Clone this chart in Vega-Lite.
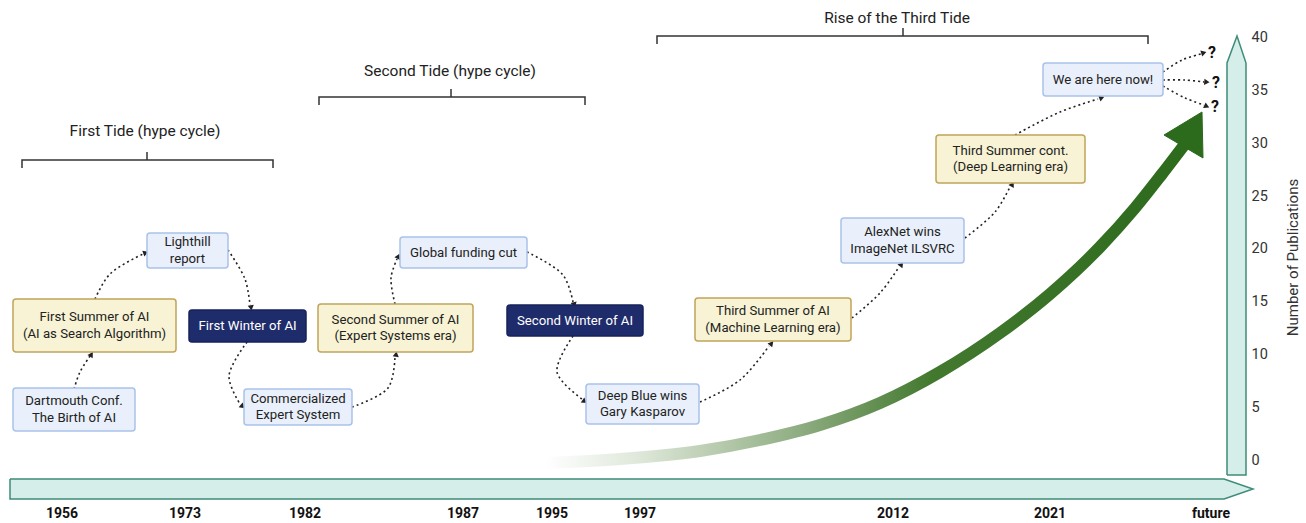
{
  "$schema": "https://vega.github.io/schema/vega-lite/v6.json",
  "width": 1306,
  "height": 523,
  "autosize": {"type": "none"},
  "padding": 0,
  "background": "white",
  "config": {"view": {"stroke": null}, "font": "Roboto"},
  "datasets": {
    "shapes": [
      {"g": "timeline", "i": 0, "x": 10, "y": 479},
      {"g": "timeline", "i": 1, "x": 1224, "y": 479},
      {"g": "timeline", "i": 2, "x": 1253, "y": 489},
      {"g": "timeline", "i": 3, "x": 1224, "y": 499},
      {"g": "timeline", "i": 4, "x": 10, "y": 499},
      {"g": "timeline", "i": 5, "x": 10, "y": 479},
      {"g": "pubs", "i": 0, "x": 1227, "y": 475},
      {"g": "pubs", "i": 1, "x": 1246, "y": 475},
      {"g": "pubs", "i": 2, "x": 1246, "y": 63},
      {"g": "pubs", "i": 3, "x": 1237, "y": 36},
      {"g": "pubs", "i": 4, "x": 1227, "y": 63},
      {"g": "pubs", "i": 5, "x": 1227, "y": 475}
    ],
    "head": [
      {"i": 0, "x": 1202, "y": 112},
      {"i": 1, "x": 1203, "y": 158},
      {"i": 2, "x": 1164, "y": 135},
      {"i": 3, "x": 1202, "y": 112}
    ],
    "curve": [
      {"x": 545, "y": 463},
      {"x": 620, "y": 459},
      {"x": 700, "y": 451},
      {"x": 760, "y": 440},
      {"x": 820, "y": 425},
      {"x": 880, "y": 403},
      {"x": 940, "y": 372},
      {"x": 1000, "y": 333},
      {"x": 1050, "y": 294},
      {"x": 1100, "y": 247},
      {"x": 1135, "y": 208},
      {"x": 1162, "y": 174},
      {"x": 1188, "y": 140}
    ],
    "brackets": [
      {"id": "b1", "i": 0, "x": 22, "y": 168}, {"id": "b1", "i": 1, "x": 22, "y": 160}, {"id": "b1", "i": 2, "x": 273, "y": 160}, {"id": "b1", "i": 3, "x": 273, "y": 168},
      {"id": "b1t", "i": 0, "x": 147, "y": 152}, {"id": "b1t", "i": 1, "x": 147, "y": 160},
      {"id": "b2", "i": 0, "x": 319, "y": 105}, {"id": "b2", "i": 1, "x": 319, "y": 97}, {"id": "b2", "i": 2, "x": 585, "y": 97}, {"id": "b2", "i": 3, "x": 585, "y": 105},
      {"id": "b2t", "i": 0, "x": 451, "y": 89}, {"id": "b2t", "i": 1, "x": 451, "y": 97},
      {"id": "b3", "i": 0, "x": 657, "y": 44}, {"id": "b3", "i": 1, "x": 657, "y": 36}, {"id": "b3", "i": 2, "x": 1148, "y": 36}, {"id": "b3", "i": 3, "x": 1148, "y": 44},
      {"id": "b3t", "i": 0, "x": 903, "y": 28}, {"id": "b3t", "i": 1, "x": 903, "y": 36}
    ],
    "tides": [
      {"label": "First Tide (hype cycle)", "x": 145, "y": 131},
      {"label": "Second Tide (hype cycle)", "x": 450, "y": 71},
      {"label": "Rise of the Third Tide", "x": 897, "y": 18}
    ],
    "links": [
      {"id": "a1", "i": 0, "x": 74, "y": 389}, {"id": "a1", "i": 1, "x": 80, "y": 372}, {"id": "a1", "i": 2, "x": 90, "y": 356},
      {"id": "a2", "i": 0, "x": 95, "y": 299}, {"id": "a2", "i": 1, "x": 110, "y": 274}, {"id": "a2", "i": 2, "x": 143, "y": 254},
      {"id": "a3", "i": 0, "x": 228, "y": 250}, {"id": "a3", "i": 1, "x": 245, "y": 279}, {"id": "a3", "i": 2, "x": 250, "y": 305},
      {"id": "a4", "i": 0, "x": 247, "y": 342}, {"id": "a4", "i": 1, "x": 229, "y": 376}, {"id": "a4", "i": 2, "x": 240, "y": 404},
      {"id": "a5", "i": 0, "x": 352, "y": 407}, {"id": "a5", "i": 1, "x": 388, "y": 388}, {"id": "a5", "i": 2, "x": 395, "y": 357},
      {"id": "a6", "i": 0, "x": 395, "y": 304}, {"id": "a6", "i": 1, "x": 391, "y": 278}, {"id": "a6", "i": 2, "x": 397, "y": 259},
      {"id": "a7", "i": 0, "x": 527, "y": 252}, {"id": "a7", "i": 1, "x": 563, "y": 275}, {"id": "a7", "i": 2, "x": 573, "y": 302},
      {"id": "a8", "i": 0, "x": 573, "y": 336}, {"id": "a8", "i": 1, "x": 557, "y": 372}, {"id": "a8", "i": 2, "x": 582, "y": 399},
      {"id": "a9", "i": 0, "x": 700, "y": 402}, {"id": "a9", "i": 1, "x": 740, "y": 380}, {"id": "a9", "i": 2, "x": 769, "y": 346},
      {"id": "a10", "i": 0, "x": 852, "y": 318}, {"id": "a10", "i": 1, "x": 880, "y": 293}, {"id": "a10", "i": 2, "x": 899, "y": 267},
      {"id": "a11", "i": 0, "x": 965, "y": 238}, {"id": "a11", "i": 1, "x": 995, "y": 212}, {"id": "a11", "i": 2, "x": 1010, "y": 187},
      {"id": "a12", "i": 0, "x": 1015, "y": 135}, {"id": "a12", "i": 1, "x": 1060, "y": 112}, {"id": "a12", "i": 2, "x": 1098, "y": 99},
      {"id": "a13", "i": 0, "x": 1163, "y": 72}, {"id": "a13", "i": 1, "x": 1182, "y": 60}, {"id": "a13", "i": 2, "x": 1201, "y": 54},
      {"id": "a14", "i": 0, "x": 1163, "y": 80}, {"id": "a14", "i": 1, "x": 1185, "y": 80}, {"id": "a14", "i": 2, "x": 1204, "y": 82},
      {"id": "a15", "i": 0, "x": 1163, "y": 86}, {"id": "a15", "i": 1, "x": 1185, "y": 98}, {"id": "a15", "i": 2, "x": 1204, "y": 105}
    ],
    "heads": [
      {"x": 91, "y": 355, "dir": 32},
      {"x": 145, "y": 253, "dir": 70},
      {"x": 251, "y": 307, "dir": 172},
      {"x": 242, "y": 406, "dir": 130},
      {"x": 396, "y": 355, "dir": 8},
      {"x": 398, "y": 257, "dir": 25},
      {"x": 574, "y": 304, "dir": 168},
      {"x": 584, "y": 401, "dir": 125},
      {"x": 771, "y": 344, "dir": 40},
      {"x": 901, "y": 265, "dir": 37},
      {"x": 1012, "y": 185, "dir": 30},
      {"x": 1101, "y": 98, "dir": 68},
      {"x": 1203, "y": 53, "dir": 72},
      {"x": 1206, "y": 82, "dir": 95},
      {"x": 1206, "y": 106, "dir": 115}
    ],
    "boxes": [
      {"label": "Dartmouth Conf.\nThe Birth of AI", "kind": "event", "x1": 13, "x2": 135, "y1": 388, "y2": 431},
      {"label": "First Summer of AI\n(AI as Search Algorithm)", "kind": "summer", "x1": 13, "x2": 176, "y1": 299, "y2": 352},
      {"label": "Lighthill\nreport", "kind": "event", "x1": 147, "x2": 228, "y1": 233, "y2": 268},
      {"label": "First Winter of AI", "kind": "winter", "x1": 189, "x2": 306, "y1": 310, "y2": 342},
      {"label": "Commercialized\nExpert System", "kind": "event", "x1": 244, "x2": 352, "y1": 389, "y2": 425},
      {"label": "Second Summer of AI\n(Expert Systems era)", "kind": "summer", "x1": 318, "x2": 473, "y1": 304, "y2": 352},
      {"label": "Global funding cut", "kind": "event", "x1": 400, "x2": 527, "y1": 237, "y2": 268},
      {"label": "Second Winter of AI", "kind": "winter", "x1": 507, "x2": 643, "y1": 305, "y2": 336},
      {"label": "Deep Blue wins\nGary Kasparov", "kind": "event", "x1": 586, "x2": 699, "y1": 384, "y2": 424},
      {"label": "Third Summer of AI\n(Machine Learning era)", "kind": "summer", "x1": 695, "x2": 851, "y1": 298, "y2": 341},
      {"label": "AlexNet wins\nImageNet ILSVRC", "kind": "event", "x1": 841, "x2": 964, "y1": 218, "y2": 263},
      {"label": "Third Summer cont.\n(Deep Learning era)", "kind": "summer", "x1": 936, "x2": 1085, "y1": 135, "y2": 183},
      {"label": "We are here now!", "kind": "event", "x1": 1043, "x2": 1163, "y1": 63, "y2": 96}
    ],
    "questions": [
      {"label": "?", "x": 1212, "y": 53},
      {"label": "?", "x": 1216, "y": 83},
      {"label": "?", "x": 1215, "y": 107}
    ],
    "years": [
      {"label": "1956", "x": 62},
      {"label": "1973", "x": 185},
      {"label": "1982", "x": 305},
      {"label": "1987", "x": 463},
      {"label": "1995", "x": 552},
      {"label": "1997", "x": 640},
      {"label": "2012", "x": 893},
      {"label": "2021", "x": 1050},
      {"label": "future", "x": 1211}
    ]
  },
  "layer": [
    {
      "layer": [
        {
          "data": {"name": "shapes"},
          "mark": {"type": "line", "fill": "#d5eeea", "stroke": "#3f8c78", "strokeWidth": 1.5, "strokeJoin": "miter"},
          "encoding": {
            "x": {"field": "x", "type": "quantitative", "scale": {"domain": [0, 1306], "nice": false, "zero": false}, "axis": null},
            "y": {"field": "y", "type": "quantitative", "scale": {"domain": [0, 523], "reverse": true, "nice": false, "zero": false}, "axis": null},
            "detail": {"field": "g"},
            "order": {"field": "i", "type": "quantitative"}
          }
        },
        {
          "data": {"name": "curve"},
          "mark": {"type": "line", "interpolate": "monotone", "strokeWidth": 12, "strokeCap": "butt", "stroke": {"gradient": "linear", "x1": 0, "y1": 0, "x2": 1, "y2": 0, "stops": [
            {"offset": 0, "color": "#ffffff"},
            {"offset": 0.15, "color": "#dde7d8"},
            {"offset": 0.4, "color": "#8dac80"},
            {"offset": 0.6, "color": "#43792f"},
            {"offset": 1, "color": "#2c6a1c"}
          ]}},
          "encoding": {
            "x": {"field": "x", "type": "quantitative", "scale": {"domain": [0, 1306], "nice": false, "zero": false}, "axis": null},
            "y": {"field": "y", "type": "quantitative", "scale": {"domain": [0, 523], "reverse": true, "nice": false, "zero": false}, "axis": null},
            "order": {"field": "x", "type": "quantitative"}
          }
        },
        {
          "data": {"name": "head"},
          "mark": {"type": "line", "fill": "#2c6a1c", "stroke": "#2c6a1c", "strokeWidth": 1},
          "encoding": {
            "x": {"field": "x", "type": "quantitative", "scale": {"domain": [0, 1306], "nice": false, "zero": false}, "axis": null},
            "y": {"field": "y", "type": "quantitative", "scale": {"domain": [0, 523], "reverse": true, "nice": false, "zero": false}, "axis": null},
            "order": {"field": "i", "type": "quantitative"}
          }
        },
        {
          "data": {"name": "brackets"},
          "mark": {"type": "line", "stroke": "#333333", "strokeWidth": 1.5},
          "encoding": {
            "x": {"field": "x", "type": "quantitative", "scale": {"domain": [0, 1306], "nice": false, "zero": false}, "axis": null},
            "y": {"field": "y", "type": "quantitative", "scale": {"domain": [0, 523], "reverse": true, "nice": false, "zero": false}, "axis": null},
            "detail": {"field": "id"},
            "order": {"field": "i", "type": "quantitative"}
          }
        },
        {
          "data": {"name": "tides"},
          "mark": {"type": "text", "fontSize": 15.5, "color": "#222222", "align": "center", "baseline": "middle"},
          "encoding": {
            "x": {"field": "x", "type": "quantitative", "scale": {"domain": [0, 1306], "nice": false, "zero": false}, "axis": null},
            "y": {"field": "y", "type": "quantitative", "scale": {"domain": [0, 523], "reverse": true, "nice": false, "zero": false}, "axis": null},
            "text": {"field": "label"}
          }
        },
        {
          "data": {"name": "links"},
          "mark": {"type": "line", "interpolate": "catmull-rom", "stroke": "#222222", "strokeWidth": 1.6, "strokeDash": [2, 3]},
          "encoding": {
            "x": {"field": "x", "type": "quantitative", "scale": {"domain": [0, 1306], "nice": false, "zero": false}, "axis": null},
            "y": {"field": "y", "type": "quantitative", "scale": {"domain": [0, 523], "reverse": true, "nice": false, "zero": false}, "axis": null},
            "detail": {"field": "id"},
            "order": {"field": "i", "type": "quantitative"}
          }
        },
        {
          "data": {"name": "heads"},
          "mark": {"type": "point", "shape": "triangle", "filled": true, "color": "#222222", "opacity": 1, "size": 38},
          "encoding": {
            "x": {"field": "x", "type": "quantitative", "scale": {"domain": [0, 1306], "nice": false, "zero": false}, "axis": null},
            "y": {"field": "y", "type": "quantitative", "scale": {"domain": [0, 523], "reverse": true, "nice": false, "zero": false}, "axis": null},
            "angle": {"field": "dir", "type": "quantitative", "scale": null}
          }
        },
        {
          "data": {"name": "boxes"},
          "mark": {"type": "rect", "cornerRadius": 3, "strokeWidth": 1.5},
          "encoding": {
            "x": {"field": "x1", "type": "quantitative", "scale": {"domain": [0, 1306], "nice": false, "zero": false}, "axis": null},
            "x2": {"field": "x2"},
            "y": {"field": "y1", "type": "quantitative", "scale": {"domain": [0, 523], "reverse": true, "nice": false, "zero": false}, "axis": null},
            "y2": {"field": "y2"},
            "fill": {"field": "kind", "type": "nominal", "scale": {"domain": ["event", "summer", "winter"], "range": ["#e9f0fb", "#f7f3d4", "#1f2c6b"]}, "legend": null},
            "stroke": {"field": "kind", "type": "nominal", "scale": {"domain": ["event", "summer", "winter"], "range": ["#a9c2ea", "#c0a55a", "#17225a"]}, "legend": null}
          }
        },
        {
          "data": {"name": "boxes"},
          "transform": [
            {"calculate": "(datum.x1 + datum.x2) / 2", "as": "cx"},
            {"calculate": "(datum.y1 + datum.y2) / 2 - (indexof(datum.label, '\\n') >= 0 ? 8.25 : 0)", "as": "cy"}
          ],
          "mark": {"type": "text", "fontSize": 13.2, "lineBreak": "\n", "lineHeight": 16.5, "align": "center", "baseline": "middle"},
          "encoding": {
            "x": {"field": "cx", "type": "quantitative", "scale": {"domain": [0, 1306], "nice": false, "zero": false}, "axis": null},
            "y": {"field": "cy", "type": "quantitative", "scale": {"domain": [0, 523], "reverse": true, "nice": false, "zero": false}, "axis": null},
            "text": {"field": "label"},
            "color": {"field": "kind", "type": "nominal", "scale": {"domain": ["event", "summer", "winter"], "range": ["#222222", "#222222", "#ffffff"]}, "legend": null}
          }
        },
        {
          "data": {"name": "questions"},
          "mark": {"type": "text", "fontSize": 16, "fontWeight": "bold", "color": "#111111", "align": "center", "baseline": "middle"},
          "encoding": {
            "x": {"field": "x", "type": "quantitative", "scale": {"domain": [0, 1306], "nice": false, "zero": false}, "axis": null},
            "y": {"field": "y", "type": "quantitative", "scale": {"domain": [0, 523], "reverse": true, "nice": false, "zero": false}, "axis": null},
            "text": {"field": "label"}
          }
        },
        {
          "data": {"name": "years"},
          "transform": [{"calculate": "514", "as": "y"}],
          "mark": {"type": "text", "fontSize": 14, "fontWeight": "bold", "color": "#111111", "align": "center", "baseline": "middle"},
          "encoding": {
            "x": {"field": "x", "type": "quantitative", "scale": {"domain": [0, 1306], "nice": false, "zero": false}, "axis": null},
            "y": {"field": "y", "type": "quantitative", "scale": {"domain": [0, 523], "reverse": true, "nice": false, "zero": false}, "axis": null},
            "text": {"field": "label"}
          }
        }
      ]
    },
    {
      "data": {"values": [{"pubs": 0}, {"pubs": 40}]},
      "mark": {"type": "point", "opacity": 0},
      "encoding": {
        "y": {
          "field": "pubs",
          "type": "quantitative",
          "scale": {"domain": [-5.97, 43.6], "nice": false, "zero": false},
          "axis": {
            "orient": "right",
            "offset": -56,
            "values": [0, 5, 10, 15, 20, 25, 30, 35, 40],
            "domain": false,
            "ticks": false,
            "tickSize": 0,
            "grid": false,
            "labelPadding": 1,
            "labelFlush": false,
            "labelOverlap": false,
            "labelFontSize": 14.5,
            "labelColor": "#333333",
            "labelFont": "Roboto",
            "title": "Number of Publications",
            "titleFont": "Roboto",
            "titleFontSize": 15,
            "titleFontWeight": "normal",
            "titleColor": "#333333",
            "titleAngle": 270,
            "titleX": 42,
            "titleY": 257,
            "titleAlign": "center",
            "titleBaseline": "middle"
          }
        }
      }
    }
  ],
  "resolve": {"scale": {"y": "independent"}}
}
